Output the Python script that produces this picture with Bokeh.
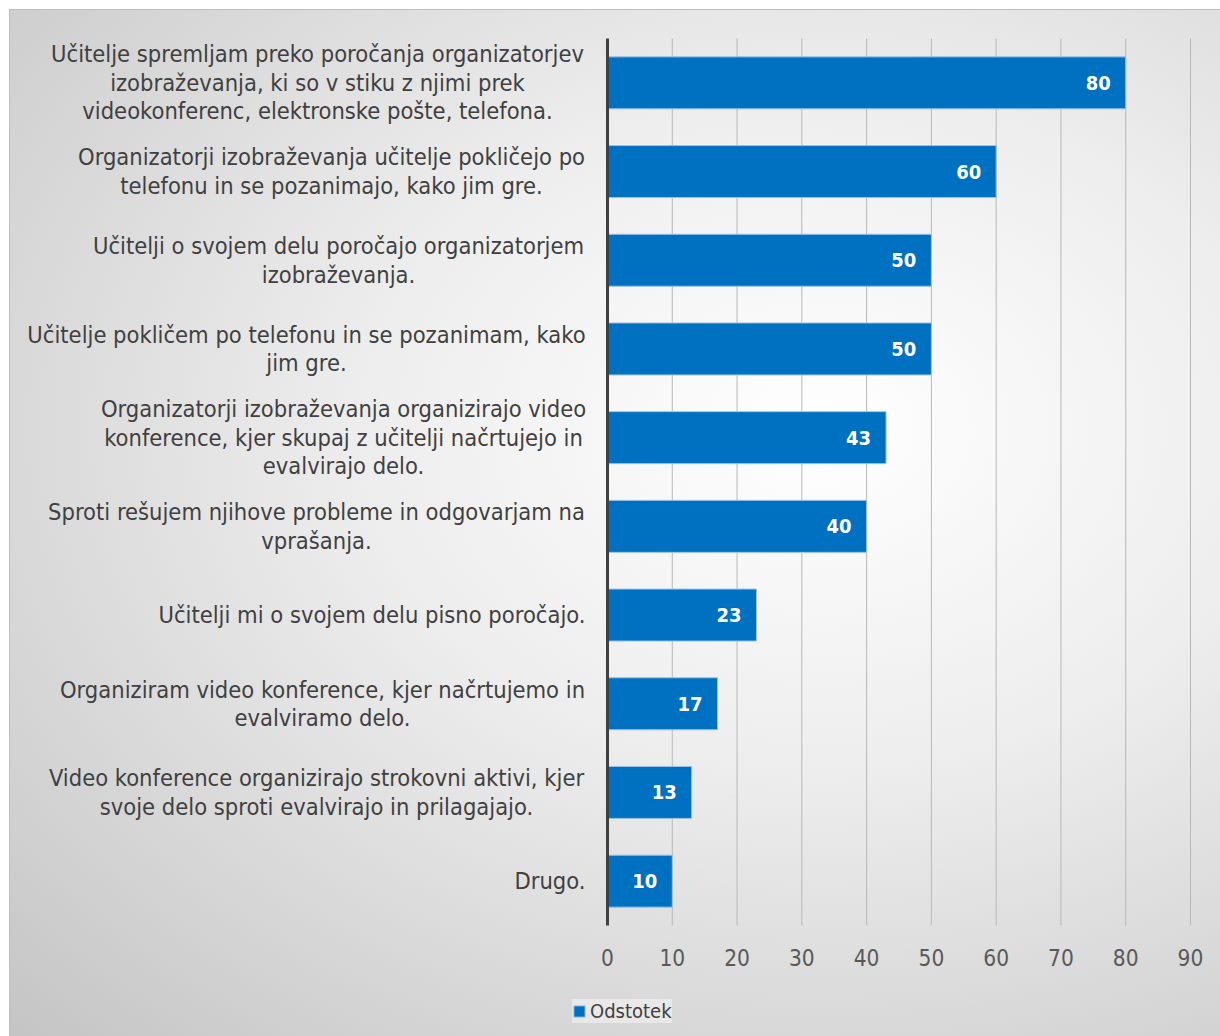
from bokeh.plotting import figure
from bokeh.models import ColumnDataSource, Range1d, Legend, LegendItem
from bokeh.core.properties import value
from bokeh.embed import file_html
from bokeh.resources import INLINE

# ---------------- data ----------------
category_lines = [
    ["Učitelje spremljam preko poročanja organizatorjev",
     "izobraževanja, ki so v stiku z njimi prek",
     "videokonferenc, elektronske pošte, telefona."],
    ["Organizatorji izobraževanja učitelje pokličejo po",
     "telefonu in se pozanimajo, kako jim gre."],
    ["Učitelji o svojem delu poročajo organizatorjem",
     "izobraževanja."],
    ["Učitelje pokličem po telefonu in se pozanimam, kako",
     "jim gre."],
    ["Organizatorji izobraževanja organizirajo video",
     "konference, kjer skupaj z učitelji načrtujejo in",
     "evalvirajo delo."],
    ["Sproti rešujem njihove probleme in odgovarjam na",
     "vprašanja."],
    ["Učitelji mi o svojem delu pisno poročajo."],
    ["Organiziram video konference, kjer načrtujemo in",
     "evalviramo delo."],
    ["Video konference organizirajo strokovni aktivi, kjer",
     "svoje delo sproti evalvirajo in prilagajajo."],
    ["Drugo."],
]
values = [80, 60, 50, 50, 43, 40, 23, 17, 13, 10]
x_ticks = [0, 10, 20, 30, 40, 50, 60, 70, 80, 90]
tick_labels = [str(t) for t in x_ticks]
series_name = "Odstotek"

# ---------------- layout / style (pixels) ----------------
W, H = 1220, 1036
PLOT_L, PLOT_R, PLOT_T, PLOT_B = 607, 1190, 38, 925   # value-0 .. value-90, top .. bottom
X_MAX = 90
FONT = "DejaVu Sans Condensed, Roboto Condensed, Liberation Sans Narrow, Roboto"
block_center_px = [317, 331, 338, 306, 343, 316, None, 322, 316, None]
right_edge_px = 585
line_gap = 28.5
tick_label_center_py = 957

n = len(values)
ys = [n - 1 - i for i in range(n)]
px_per_x = (PLOT_R - PLOT_L) / X_MAX
px_per_y = (PLOT_B - PLOT_T) / n


def dx(px):
    return (px - PLOT_L) / px_per_x


def dy(py):
    return (n - 0.5) - (py - PLOT_T) / px_per_y


# the frame covers the whole canvas; data ranges extended accordingly
p = figure(width=W, height=H, output_backend="svg", toolbar_location=None,
           x_range=Range1d(dx(0), dx(W)), y_range=Range1d(dy(H), dy(0)),
           x_axis_location=None, y_axis_location=None,
           min_border=0)
p.border_fill_color = None
p.background_fill_color = None
p.outline_line_color = None
p.grid.visible = False
p.styles = {
    "background": "radial-gradient(ellipse farthest-corner at 820px 430px, #ffffff 0%, #ededed 40%, #c4c4c4 100%)",
    "box-shadow": "inset 9px 9px 0 0 #ffffff, inset 10px 10px 0 0 #bdbdbd",
}

# vertical grid lines (value ticks)
grid_x = [t for t in x_ticks if t > 0]
p.segment(x0=grid_x, x1=grid_x, y0=[-0.5] * len(grid_x), y1=[n - 0.5] * len(grid_x),
          line_color="#b8b8b8", line_width=1)

# bars
src = ColumnDataSource(dict(y=ys, v=values, t=[str(v) for v in values]))
bars = p.hbar(y="y", left=0, right="v", height=0.586, source=src,
              fill_color="#0070c0", line_color="#9dc3e6", line_width=1)

# vertical category axis line
p.segment(x0=[0], x1=[0], y0=[-0.5], y1=[n - 0.5], line_color="#404040", line_width=3)

# value tick labels
p.text(x=x_ticks, y=[dy(tick_label_center_py)] * len(x_ticks), text=tick_labels,
       text_align="center", text_baseline="middle", text_color="#595959",
       text_font=value(FONT), text_font_size="22.5px")

# data labels
p.text(x="v", y="y", text="t", source=src, x_offset=-15,
       text_align="right", text_baseline="middle",
       text_color="white", text_font=value(FONT),
       text_font_style="bold", text_font_size="20px")

# category labels (multi-line, centred lines, block right-aligned)
cx, cy, ct = [], [], []
rx, ry, rt = [], [], []
for i, lines in enumerate(category_lines):
    k = len(lines)
    for j, line in enumerate(lines):
        yy = ys[i] + line_gap * ((k - 1) / 2 - j) / px_per_y
        if block_center_px[i] is None:
            rx.append(dx(right_edge_px)); ry.append(yy); rt.append(line)
        else:
            cx.append(dx(block_center_px[i])); cy.append(yy); ct.append(line)

p.text(x=cx, y=cy, text=ct, text_align="center", text_baseline="middle",
       text_color="#404040", text_font=value(FONT), text_font_size="23.5px")
p.text(x=rx, y=ry, text=rt, text_align="right", text_baseline="middle",
       text_color="#404040", text_font=value(FONT), text_font_size="23.5px")

# legend
legend = Legend(items=[LegendItem(label=series_name, renderers=[bars])],
                location=(572, 13), orientation="horizontal",
                label_text_font=FONT, label_text_font_size="20px",
                label_text_color="#404040",
                glyph_width=14, glyph_height=14, label_standoff=4,
                padding=8, margin=0,
                background_fill_color="#f4f4f4", background_fill_alpha=0.6,
                border_line_color=None)
p.add_layout(legend, "center")

open("out.html", "w").write(file_html(p, INLINE))
